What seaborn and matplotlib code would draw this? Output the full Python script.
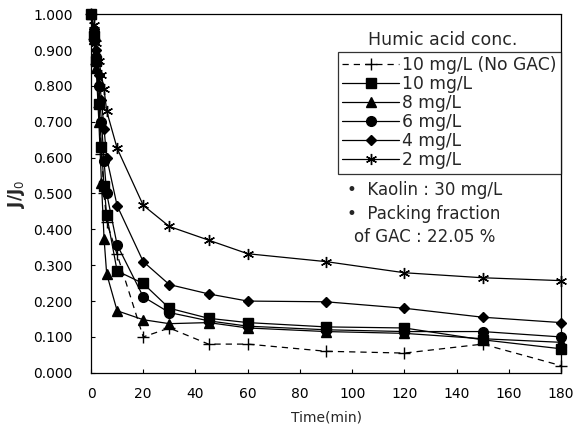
import matplotlib
matplotlib.use("Agg")
import matplotlib.pyplot as plt
import seaborn as sns
import numpy as np
import pandas as pd

sns.set_style("ticks")
plt.rcParams['font.family'] = ['DejaVu Sans']

time_min = [0, 1, 2, 3, 4, 5, 6, 10, 20, 30, 45, 60, 90, 120, 150, 180]

no_gac_10 = [1.0, 0.93, 0.86, 0.74, 0.61, 0.50, 0.42, 0.33, 0.100, 0.125, 0.080, 0.080, 0.060, 0.055, 0.080, 0.020]
ha_10 = [1.0, 0.94, 0.87, 0.75, 0.63, 0.52, 0.44, 0.284, 0.249, 0.180, 0.152, 0.140, 0.128, 0.125, 0.092, 0.067]
ha_8 = [1.0, 0.93, 0.85, 0.70, 0.53, 0.374, 0.276, 0.173, 0.148, 0.137, 0.140, 0.125, 0.115, 0.110, 0.095, 0.085]
ha_6 = [1.0, 0.95, 0.88, 0.80, 0.70, 0.59, 0.50, 0.357, 0.212, 0.168, 0.145, 0.130, 0.120, 0.115, 0.115, 0.100]
ha_4 = [1.0, 0.96, 0.90, 0.83, 0.76, 0.68, 0.60, 0.466, 0.310, 0.246, 0.220, 0.200, 0.198, 0.180, 0.155, 0.140]
ha_2 = [1.0, 0.97, 0.92, 0.87, 0.83, 0.79, 0.73, 0.626, 0.467, 0.408, 0.370, 0.332, 0.310, 0.279, 0.265, 0.257]

series_labels = ["10 mg/L (No GAC)", "10 mg/L", "8 mg/L", "6 mg/L", "4 mg/L", "2 mg/L"]
series_values = [no_gac_10, ha_10, ha_8, ha_6, ha_4, ha_2]
markers = ["+", "s", "^", "o", "D", (6, 2, 0)]
msizes = [8, 7, 7, 7, 5.5, 8]
lstyles = [(0, (5, 4)), "-", "-", "-", "-", "-"]

fig = plt.figure(figsize=(5.76, 4.29), dpi=100)
ax = fig.add_axes([0.158, 0.131, 0.816, 0.836])

for lab, vals, mk, ms, ls in zip(series_labels, series_values, markers, msizes, lstyles):
    df = pd.DataFrame({"t": time_min, "J": vals})
    sns.lineplot(data=df, x="t", y="J", ax=ax, color="black", linewidth=0.9,
                 linestyle=ls, marker=mk, markersize=ms, markerfacecolor="black",
                 markeredgecolor="black", markeredgewidth=1.0, label=lab,
                 clip_on=False, zorder=3)

ax.set_xlim(0, 180)
ax.set_ylim(0, 1.0)
ax.set_xticks(np.arange(0, 181, 20))
ax.set_yticks(np.arange(0, 1.0001, 0.1))
ax.set_yticklabels([f"{v:.3f}" for v in np.arange(0, 1.0001, 0.1)])
ax.tick_params(direction="in", length=3, width=0.8, labelsize=10, colors="black")
ax.tick_params(axis="y", pad=13)
ax.tick_params(axis="x", pad=10)
for s in ax.spines.values():
    s.set_visible(True)
    s.set_color("black")
    s.set_linewidth(0.9)
ax.spines["right"].set_linestyle((0, (1, 1)))

ax.set_xlabel("Time(min)", fontsize=10, labelpad=7)
ax.set_ylabel(r"J/J$_0$", fontsize=12, labelpad=5, fontweight="bold")

leg = ax.legend(loc="upper right", bbox_to_anchor=(561/576, 1 - 52/429),
                bbox_transform=fig.transFigure, frameon=True, fancybox=False,
                fontsize=12.3, handlelength=3.3, handletextpad=0.2,
                labelspacing=0.06, borderpad=0.25, borderaxespad=0)
leg.get_frame().set_edgecolor("black")
leg.get_frame().set_linewidth(0.9)

fig.text(443/576, 1 - 40/429, "Humic acid conc.", fontsize=12.5, ha="center", va="center")
fig.text(347/576, 1 - 190/429, "•  Kaolin : 30 mg/L", fontsize=12, ha="left", va="center")
fig.text(347/576, 1 - 214/429, "•  Packing fraction", fontsize=12, ha="left", va="center")
fig.text(354/576, 1 - 237/429, "of GAC : 22.05 %", fontsize=12, ha="left", va="center")

fig.savefig("out.png", dpi=100)
